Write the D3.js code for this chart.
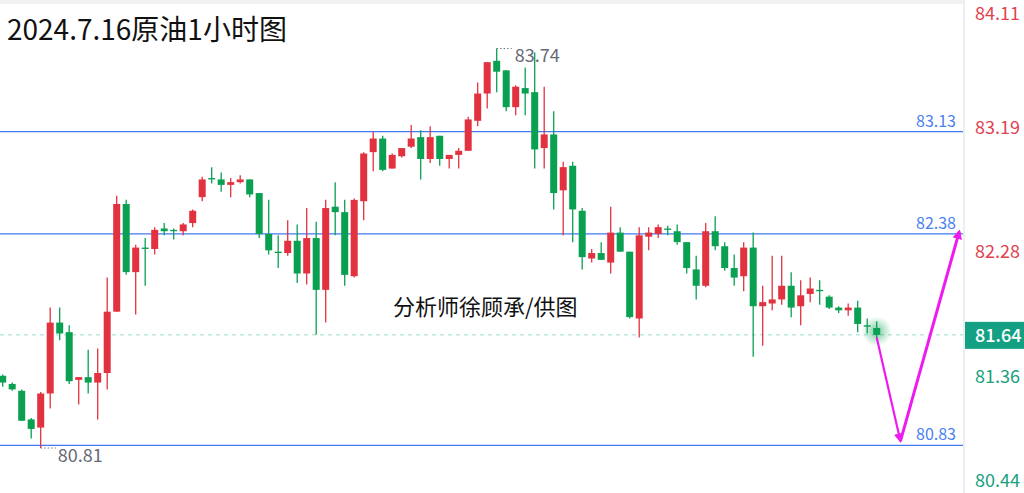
<!DOCTYPE html>
<html><head><meta charset="utf-8">
<script src="https://cdn.jsdelivr.net/npm/d3@7/dist/d3.min.js"></script>
<style>html,body{margin:0;padding:0;background:#fff;}svg{display:block;}</style>
</head><body>
<svg id="chart" width="1024" height="493"></svg>
<script>
// ---------- data ----------
const title = "2024.7.16原油1小时图";
const watermark = "分析师徐顾承/供图";
const opens  = [81.34,81.28,81.23,81.02,80.96,81.21,81.73,81.66,81.31,81.33,81.29,81.36,81.81,82.60,82.10,82.28,82.27,82.42,82.41,82.40,82.46,82.65,82.79,82.78,82.74,82.76,82.78,82.68,82.38,82.25,82.24,82.33,82.09,82.35,81.97,82.58,82.54,82.07,82.62,82.98,83.08,82.86,82.95,83.02,83.09,82.93,83.10,82.93,82.96,82.99,83.21,83.41,83.65,83.58,83.31,83.45,83.42,83.01,83.11,82.70,82.88,82.55,82.20,82.24,82.17,82.39,82.25,81.76,82.36,82.38,82.42,82.40,82.32,82.12,82.00,82.40,82.29,82.13,82.07,82.28,81.85,81.87,81.90,82.00,81.85,81.94,81.97,81.92,81.84,81.82,81.84,81.71,81.69];
const highs  = [81.35,81.29,81.24,81.03,81.22,81.84,81.84,81.71,81.33,81.53,81.54,82.06,82.66,82.63,82.30,82.35,82.43,82.46,82.42,82.46,82.56,82.80,82.87,82.83,82.79,82.81,82.78,82.68,82.63,82.37,82.48,82.45,82.57,82.47,82.63,82.76,82.63,82.64,82.98,83.13,83.10,82.97,83.01,83.18,83.14,83.17,83.10,82.96,83.01,83.24,83.49,83.64,83.74,83.58,83.47,83.60,83.71,83.46,83.28,82.91,82.91,82.57,82.27,82.32,82.58,82.43,82.25,82.43,82.43,82.45,82.44,82.45,82.32,82.22,82.46,82.51,82.32,82.23,82.32,82.39,82.00,82.22,82.22,82.10,82.04,82.06,82.04,81.93,81.85,81.87,81.89,81.76,81.74];
const lows   = [81.26,81.23,81.01,80.88,80.81,81.10,81.60,81.28,81.13,81.21,81.02,81.24,81.81,82.08,81.79,82.00,82.23,82.37,82.34,82.37,82.43,82.62,82.75,82.69,82.65,82.75,82.65,82.35,82.23,82.13,82.22,82.02,82.01,81.64,81.73,82.37,82.00,82.06,82.48,82.84,82.84,82.86,82.94,83.01,82.78,82.90,82.88,82.86,82.86,82.99,83.17,83.30,83.42,83.28,83.25,83.25,82.86,82.86,82.56,82.37,82.32,82.12,82.17,82.19,82.09,82.25,81.76,81.62,82.26,82.35,82.37,82.30,82.09,81.90,81.99,82.26,82.11,82.00,81.96,81.48,81.56,81.82,81.86,81.77,81.71,81.88,81.86,81.83,81.80,81.78,81.66,81.65,81.60];
const closes = [81.29,81.24,81.01,80.95,81.21,81.73,81.65,81.30,81.33,81.29,81.36,81.81,82.60,82.10,82.28,82.27,82.41,82.40,82.40,82.45,82.55,82.78,82.78,82.74,82.76,82.78,82.67,82.38,82.26,82.24,82.33,82.09,82.35,81.97,82.57,82.54,82.08,82.63,82.97,83.08,82.85,82.96,83.01,83.08,82.93,83.09,82.93,82.96,82.99,83.22,83.41,83.64,83.57,83.31,83.46,83.41,83.00,83.11,82.68,82.87,82.56,82.21,82.24,82.19,82.39,82.25,81.77,82.37,82.39,82.43,82.41,82.32,82.13,82.00,82.40,82.29,82.13,82.06,82.28,81.85,81.88,81.90,82.00,81.84,81.93,81.98,81.96,81.84,81.82,81.84,81.72,81.70,81.64];
const axisTicks = [84.11, 83.19, 82.28, 81.36, 80.44];
const levelLines = [83.13, 82.38, 80.83];
const currentPrice = 81.64;
const highLabel = {index: 52, value: 83.74};
const lowLabel  = {index: 4,  value: 80.81};
// forecast arrow path (bar index, price)
const arrowIdx = [92, 94.5, 100.7];
const arrowVal = [81.62, 80.86, 82.40];

// ---------- layout ----------
const W = 1024, H = 493, plotRight = 963;
const svg = d3.select("#chart");
const n = opens.length;
const x = d3.scaleLinear().domain([0, n - 1]).range([2.7, 876.7]);
const y = d3.scaleLinear().domain([83.13, 80.83]).range([131.7, 445.3]);
const RED = "#e2323f", GREEN = "#0aa052", BLUE = "#4079f2";
const FONT = "'Noto Sans CJK SC','Noto Sans',sans-serif";

svg.append("rect").attr("width", W).attr("height", H).attr("fill", "#fff");
svg.append("rect").attr("x", 0).attr("y", 0).attr("width", plotRight).attr("height", 4).attr("fill", "#f0f1f3");

// defs
const defs = svg.append("defs");
const rg = defs.append("radialGradient").attr("id", "glow");
rg.append("stop").attr("offset", "0%").attr("stop-color", GREEN).attr("stop-opacity", 0.55);
rg.append("stop").attr("offset", "100%").attr("stop-color", GREEN).attr("stop-opacity", 0);
const mk = defs.append("marker").attr("id", "ah").attr("viewBox", "0 0 10 10")
  .attr("refX", 8).attr("refY", 5).attr("markerWidth", 4.4).attr("markerHeight", 4.4)
  .attr("markerUnits", "strokeWidth").attr("orient", "auto");
mk.append("path").attr("d", "M0,0 L10,5 L0,10 Z").attr("fill", "#ee1bee");
const mk2 = defs.append("marker").attr("id", "ah2").attr("viewBox", "0 0 10 10")
  .attr("refX", 8).attr("refY", 5).attr("markerWidth", 3.2).attr("markerHeight", 3.2)
  .attr("markerUnits", "strokeWidth").attr("orient", "auto");
mk2.append("path").attr("d", "M0,0 L10,5 L0,10 Z").attr("fill", "#ee1bee");

// title
svg.append("text").attr("x", 7).attr("y", 40).attr("font-family", FONT)
  .attr("font-size", 28).attr("fill", "#111").text(title);

// level lines
levelLines.forEach(v => {
  svg.append("line").attr("x1", 0).attr("x2", plotRight).attr("y1", y(v)).attr("y2", y(v))
    .attr("stroke", BLUE).attr("stroke-width", 1.3);
  svg.append("text").attr("x", 956).attr("y", y(v) - 5).attr("text-anchor", "end")
    .attr("font-family", FONT).attr("font-size", 16).attr("fill", "#4a80f0").text(v.toFixed(2));
});

// current price dashed line
svg.append("line").attr("x1", 0).attr("x2", plotRight).attr("y1", y(currentPrice)).attr("y2", y(currentPrice))
  .attr("stroke", "#9edccb").attr("stroke-width", 1).attr("stroke-dasharray", "4,4");

// watermark
svg.append("text").attr("x", 393).attr("y", 315).attr("font-family", FONT)
  .attr("font-size", 22).attr("fill", "#111").text(watermark);

// candles
const data = opens.map((o, i) => ({i, o, h: highs[i], l: lows[i], c: closes[i]}));
const bw = 7;
const g = svg.append("g");
g.selectAll("line.wick").data(data).join("line").attr("class", "wick")
  .attr("x1", d => x(d.i)).attr("x2", d => x(d.i))
  .attr("y1", d => y(d.h)).attr("y2", d => y(d.l))
  .attr("stroke", d => d.c >= d.o ? RED : GREEN).attr("stroke-width", 1.3);
g.selectAll("rect.body").data(data).join("rect").attr("class", "body")
  .attr("x", d => x(d.i) - bw / 2).attr("width", bw)
  .attr("y", d => y(Math.max(d.o, d.c)))
  .attr("height", d => Math.max(1.3, Math.abs(y(d.o) - y(d.c))))
  .attr("fill", d => d.c >= d.o ? RED : GREEN);

// glow on last candle
const last = data[n - 1];
svg.insert("circle", "g").attr("cx", x(last.i)).attr("cy", y((last.o + last.c) / 2)).attr("r", 15).attr("fill", "url(#glow)");

// high / low annotations
function annot(a, dxText, dyText) {
  const px = x(a.index), py = y(a.value);
  svg.append("line").attr("x1", px).attr("x2", px + 15).attr("y1", py).attr("y2", py)
    .attr("stroke", "#666b78").attr("stroke-width", 1).attr("stroke-dasharray", "1.3,2.2");
  svg.append("text").attr("x", px + dxText).attr("y", py + dyText).attr("font-family", FONT)
    .attr("font-size", 18).attr("fill", "#646a76").text(a.value.toFixed(2));
}
annot(highLabel, 18, 13);
annot(lowLabel, 17, 14);

// forecast arrow
const ap = arrowIdx.map((v, k) => [x(v), y(arrowVal[k])]);
svg.append("line").attr("x1", ap[0][0]).attr("y1", ap[0][1]).attr("x2", ap[1][0]).attr("y2", ap[1][1])
  .attr("stroke", "#ee1bee").attr("stroke-width", 2.2).attr("marker-end", "url(#ah)");
svg.append("line").attr("x1", ap[1][0]).attr("y1", ap[1][1]).attr("x2", ap[2][0]).attr("y2", ap[2][1])
  .attr("stroke", "#ee1bee").attr("stroke-width", 3).attr("marker-end", "url(#ah2)");

// right axis
svg.append("rect").attr("x", plotRight).attr("y", 0).attr("width", W - plotRight).attr("height", H).attr("fill", "#fff");
svg.append("rect").attr("x", plotRight).attr("y", 0).attr("width", 2).attr("height", H).attr("fill", "#eceef2");
const axisG = svg.append("g").attr("transform", `translate(${plotRight},0)`)
  .call(d3.axisRight(y).tickValues(axisTicks).tickSize(0).tickFormat(d3.format(".2f")));
axisG.select(".domain").remove();
axisG.selectAll(".tick").attr("transform", d => `translate(0,${Math.max(14, Math.min(481, y(d) + 4.5))})`);
axisG.selectAll(".tick text").attr("x", 12).attr("font-family", FONT).attr("font-size", 18)
  .attr("fill", d => d > currentPrice ? "#e0424f" : "#19a07e");

// current price tag
const cy = y(currentPrice);
svg.append("rect").attr("x", plotRight + 2).attr("y", cy - 13).attr("width", W - plotRight - 2).attr("height", 27)
  .attr("fill", "#14a083");
svg.append("text").attr("x", 975).attr("y", cy + 7).attr("font-family", FONT).attr("font-size", 18)
  .attr("font-weight", 500).attr("fill", "#fff").text(currentPrice.toFixed(2));
</script>
</body></html>
